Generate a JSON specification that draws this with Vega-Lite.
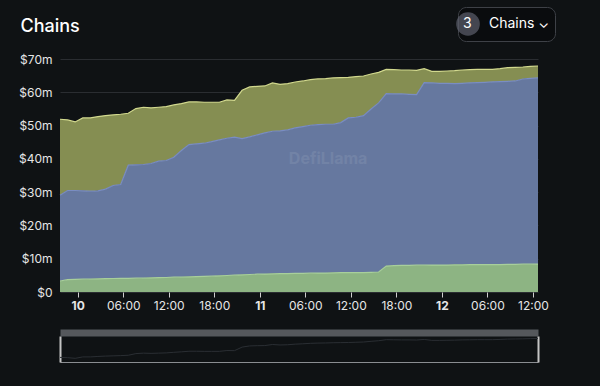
{
  "$schema": "https://vega.github.io/schema/vega-lite/v6.json",
  "background": "#0f1214",
  "autosize": "none",
  "padding": {"left": 60, "top": 59, "right": 62, "bottom": 94},
  "width": 478,
  "height": 233,
  "data": {"values": [
    {"t":1720561200000,"c":"Chain 1","v":22.8},{"t":1720561200000,"c":"Chain 2","v":25.8},{"t":1720561200000,"c":"Chain 3","v":3.3},
    {"t":1720564800000,"c":"Chain 1","v":21.2},{"t":1720564800000,"c":"Chain 2","v":26.8},{"t":1720564800000,"c":"Chain 3","v":3.7},
    {"t":1720568400000,"c":"Chain 1","v":20.6},{"t":1720568400000,"c":"Chain 2","v":26.7},{"t":1720568400000,"c":"Chain 3","v":3.8},
    {"t":1720572000000,"c":"Chain 1","v":21.9},{"t":1720572000000,"c":"Chain 2","v":26.55},{"t":1720572000000,"c":"Chain 3","v":3.85},
    {"t":1720575600000,"c":"Chain 1","v":22.0},{"t":1720575600000,"c":"Chain 2","v":26.4},{"t":1720575600000,"c":"Chain 3","v":3.9},
    {"t":1720579200000,"c":"Chain 1","v":22.3},{"t":1720579200000,"c":"Chain 2","v":26.45},{"t":1720579200000,"c":"Chain 3","v":3.95},
    {"t":1720582800000,"c":"Chain 1","v":22.1},{"t":1720582800000,"c":"Chain 2","v":26.9},{"t":1720582800000,"c":"Chain 3","v":4.0},
    {"t":1720586400000,"c":"Chain 1","v":21.2},{"t":1720586400000,"c":"Chain 2","v":27.95},{"t":1720586400000,"c":"Chain 3","v":4.05},
    {"t":1720590000000,"c":"Chain 1","v":21.1},{"t":1720590000000,"c":"Chain 2","v":28.2},{"t":1720590000000,"c":"Chain 3","v":4.1},
    {"t":1720593600000,"c":"Chain 1","v":15.6},{"t":1720593600000,"c":"Chain 2","v":34.0},{"t":1720593600000,"c":"Chain 3","v":4.1},
    {"t":1720597200000,"c":"Chain 1","v":16.9},{"t":1720597200000,"c":"Chain 2","v":34.05},{"t":1720597200000,"c":"Chain 3","v":4.15},
    {"t":1720600800000,"c":"Chain 1","v":17.2},{"t":1720600800000,"c":"Chain 2","v":34.1},{"t":1720600800000,"c":"Chain 3","v":4.2},
    {"t":1720604400000,"c":"Chain 1","v":16.7},{"t":1720604400000,"c":"Chain 2","v":34.35},{"t":1720604400000,"c":"Chain 3","v":4.25},
    {"t":1720608000000,"c":"Chain 1","v":16.2},{"t":1720608000000,"c":"Chain 2","v":35.0},{"t":1720608000000,"c":"Chain 3","v":4.3},
    {"t":1720611600000,"c":"Chain 1","v":16.2},{"t":1720611600000,"c":"Chain 2","v":35.15},{"t":1720611600000,"c":"Chain 3","v":4.35},
    {"t":1720615200000,"c":"Chain 1","v":15.7},{"t":1720615200000,"c":"Chain 2","v":36.05},{"t":1720615200000,"c":"Chain 3","v":4.45},
    {"t":1720618800000,"c":"Chain 1","v":14.1},{"t":1720618800000,"c":"Chain 2","v":38.0},{"t":1720618800000,"c":"Chain 3","v":4.5},
    {"t":1720622400000,"c":"Chain 1","v":12.8},{"t":1720622400000,"c":"Chain 2","v":39.75},{"t":1720622400000,"c":"Chain 3","v":4.55},
    {"t":1720626000000,"c":"Chain 1","v":12.6},{"t":1720626000000,"c":"Chain 2","v":39.9},{"t":1720626000000,"c":"Chain 3","v":4.6},
    {"t":1720629600000,"c":"Chain 1","v":12.3},{"t":1720629600000,"c":"Chain 2","v":40.0},{"t":1720629600000,"c":"Chain 3","v":4.7},
    {"t":1720633200000,"c":"Chain 1","v":11.8},{"t":1720633200000,"c":"Chain 2","v":40.45},{"t":1720633200000,"c":"Chain 3","v":4.75},
    {"t":1720636800000,"c":"Chain 1","v":11.3},{"t":1720636800000,"c":"Chain 2","v":40.85},{"t":1720636800000,"c":"Chain 3","v":4.85},
    {"t":1720640400000,"c":"Chain 1","v":11.5},{"t":1720640400000,"c":"Chain 2","v":41.25},{"t":1720640400000,"c":"Chain 3","v":4.95},
    {"t":1720644000000,"c":"Chain 1","v":11.1},{"t":1720644000000,"c":"Chain 2","v":41.45},{"t":1720644000000,"c":"Chain 3","v":5.05},
    {"t":1720647600000,"c":"Chain 1","v":14.5},{"t":1720647600000,"c":"Chain 2","v":40.95},{"t":1720647600000,"c":"Chain 3","v":5.15},
    {"t":1720651200000,"c":"Chain 1","v":15.0},{"t":1720651200000,"c":"Chain 2","v":41.35},{"t":1720651200000,"c":"Chain 3","v":5.25},
    {"t":1720654800000,"c":"Chain 1","v":14.6},{"t":1720654800000,"c":"Chain 2","v":41.85},{"t":1720654800000,"c":"Chain 3","v":5.35},
    {"t":1720658400000,"c":"Chain 1","v":14.1},{"t":1720658400000,"c":"Chain 2","v":42.4},{"t":1720658400000,"c":"Chain 3","v":5.4},
    {"t":1720662000000,"c":"Chain 1","v":14.5},{"t":1720662000000,"c":"Chain 2","v":42.85},{"t":1720662000000,"c":"Chain 3","v":5.45},
    {"t":1720665600000,"c":"Chain 1","v":14.0},{"t":1720665600000,"c":"Chain 2","v":42.9},{"t":1720665600000,"c":"Chain 3","v":5.5},
    {"t":1720669200000,"c":"Chain 1","v":13.9},{"t":1720669200000,"c":"Chain 2","v":43.15},{"t":1720669200000,"c":"Chain 3","v":5.55},
    {"t":1720672800000,"c":"Chain 1","v":13.8},{"t":1720672800000,"c":"Chain 2","v":43.7},{"t":1720672800000,"c":"Chain 3","v":5.6},
    {"t":1720676400000,"c":"Chain 1","v":13.7},{"t":1720676400000,"c":"Chain 2","v":44.1},{"t":1720676400000,"c":"Chain 3","v":5.6},
    {"t":1720680000000,"c":"Chain 1","v":13.7},{"t":1720680000000,"c":"Chain 2","v":44.45},{"t":1720680000000,"c":"Chain 3","v":5.65},
    {"t":1720683600000,"c":"Chain 1","v":13.7},{"t":1720683600000,"c":"Chain 2","v":44.6},{"t":1720683600000,"c":"Chain 3","v":5.7},
    {"t":1720687200000,"c":"Chain 1","v":13.7},{"t":1720687200000,"c":"Chain 2","v":44.7},{"t":1720687200000,"c":"Chain 3","v":5.7},
    {"t":1720690800000,"c":"Chain 1","v":13.9},{"t":1720690800000,"c":"Chain 2","v":44.65},{"t":1720690800000,"c":"Chain 3","v":5.75},
    {"t":1720694400000,"c":"Chain 1","v":13.5},{"t":1720694400000,"c":"Chain 2","v":45.1},{"t":1720694400000,"c":"Chain 3","v":5.8},
    {"t":1720698000000,"c":"Chain 1","v":12.2},{"t":1720698000000,"c":"Chain 2","v":46.5},{"t":1720698000000,"c":"Chain 3","v":5.8},
    {"t":1720701600000,"c":"Chain 1","v":12.2},{"t":1720701600000,"c":"Chain 2","v":46.65},{"t":1720701600000,"c":"Chain 3","v":5.85},
    {"t":1720705200000,"c":"Chain 1","v":11.9},{"t":1720705200000,"c":"Chain 2","v":47.15},{"t":1720705200000,"c":"Chain 3","v":5.85},
    {"t":1720708800000,"c":"Chain 1","v":10.5},{"t":1720708800000,"c":"Chain 2","v":49.1},{"t":1720708800000,"c":"Chain 3","v":5.9},
    {"t":1720712400000,"c":"Chain 1","v":9.2},{"t":1720712400000,"c":"Chain 2","v":50.8},{"t":1720712400000,"c":"Chain 3","v":6.0},
    {"t":1720716000000,"c":"Chain 1","v":7.3},{"t":1720716000000,"c":"Chain 2","v":51.8},{"t":1720716000000,"c":"Chain 3","v":7.8},
    {"t":1720719600000,"c":"Chain 1","v":7.3},{"t":1720719600000,"c":"Chain 2","v":51.6},{"t":1720719600000,"c":"Chain 3","v":7.9},
    {"t":1720723200000,"c":"Chain 1","v":7.2},{"t":1720723200000,"c":"Chain 2","v":51.5},{"t":1720723200000,"c":"Chain 3","v":8.0},
    {"t":1720726800000,"c":"Chain 1","v":7.3},{"t":1720726800000,"c":"Chain 2","v":51.4},{"t":1720726800000,"c":"Chain 3","v":8.0},
    {"t":1720730400000,"c":"Chain 1","v":7.3},{"t":1720730400000,"c":"Chain 2","v":51.25},{"t":1720730400000,"c":"Chain 3","v":8.05},
    {"t":1720734000000,"c":"Chain 1","v":4.2},{"t":1720734000000,"c":"Chain 2","v":54.85},{"t":1720734000000,"c":"Chain 3","v":8.05},
    {"t":1720737600000,"c":"Chain 1","v":3.5},{"t":1720737600000,"c":"Chain 2","v":54.7},{"t":1720737600000,"c":"Chain 3","v":8.1},
    {"t":1720741200000,"c":"Chain 1","v":3.6},{"t":1720741200000,"c":"Chain 2","v":54.6},{"t":1720741200000,"c":"Chain 3","v":8.1},
    {"t":1720744800000,"c":"Chain 1","v":3.7},{"t":1720744800000,"c":"Chain 2","v":54.6},{"t":1720744800000,"c":"Chain 3","v":8.1},
    {"t":1720748400000,"c":"Chain 1","v":3.9},{"t":1720748400000,"c":"Chain 2","v":54.45},{"t":1720748400000,"c":"Chain 3","v":8.15},
    {"t":1720752000000,"c":"Chain 1","v":4.0},{"t":1720752000000,"c":"Chain 2","v":54.55},{"t":1720752000000,"c":"Chain 3","v":8.15},
    {"t":1720755600000,"c":"Chain 1","v":4.0},{"t":1720755600000,"c":"Chain 2","v":54.6},{"t":1720755600000,"c":"Chain 3","v":8.2},
    {"t":1720759200000,"c":"Chain 1","v":4.0},{"t":1720759200000,"c":"Chain 2","v":54.7},{"t":1720759200000,"c":"Chain 3","v":8.2},
    {"t":1720762800000,"c":"Chain 1","v":3.9},{"t":1720762800000,"c":"Chain 2","v":54.8},{"t":1720762800000,"c":"Chain 3","v":8.2},
    {"t":1720766400000,"c":"Chain 1","v":3.8},{"t":1720766400000,"c":"Chain 2","v":54.85},{"t":1720766400000,"c":"Chain 3","v":8.25},
    {"t":1720770000000,"c":"Chain 1","v":3.9},{"t":1720770000000,"c":"Chain 2","v":54.95},{"t":1720770000000,"c":"Chain 3","v":8.25},
    {"t":1720773600000,"c":"Chain 1","v":4.1},{"t":1720773600000,"c":"Chain 2","v":55.0},{"t":1720773600000,"c":"Chain 3","v":8.3},
    {"t":1720777200000,"c":"Chain 1","v":4.1},{"t":1720777200000,"c":"Chain 2","v":55.1},{"t":1720777200000,"c":"Chain 3","v":8.3},
    {"t":1720780800000,"c":"Chain 1","v":3.6},{"t":1720780800000,"c":"Chain 2","v":55.65},{"t":1720780800000,"c":"Chain 3","v":8.35},
    {"t":1720784400000,"c":"Chain 1","v":3.6},{"t":1720784400000,"c":"Chain 2","v":55.85},{"t":1720784400000,"c":"Chain 3","v":8.35},
    {"t":1720788000000,"c":"Chain 1","v":3.6},{"t":1720788000000,"c":"Chain 2","v":55.9},{"t":1720788000000,"c":"Chain 3","v":8.4}
  ]},
  "resolve": {"scale": {"y": "independent"}, "axis": {"x": "independent", "y": "independent"}},
  "layer": [
    {
      "mark": {"type": "area", "interpolate": "linear"},
      "encoding": {
        "x": {
          "field": "t", "type": "temporal",
          "scale": {"type": "utc", "nice": false},
          "axis": {
            "title": null,
            "labelExpr": "utchours(datum.value) == 0 ? utcdate(datum.value) : utcFormat(datum.value, '%H:%M')",
            "labelFontWeight": {"condition": {"test": "utchours(datum.value) == 0", "value": "bold"}, "value": "normal"},
            "grid": false, "domain": false,
            "ticks": true, "tickColor": "#cfcfcf", "tickSize": 5,
            "labelPadding": 3, "labelFlush": false, "labelOverlap": false
          }
        },
        "y": {
          "field": "v", "type": "quantitative", "stack": "zero",
          "scale": {"domain": [0, 70], "nice": false},
          "axis": {
            "values": [0, 10, 20, 30, 40, 50, 60, 70],
            "labelExpr": "datum.value == 0 ? '$0' : '$' + datum.value + 'm'",
            "grid": true, "gridColor": "#2a2d31", "domain": false, "ticks": false,
            "labelPadding": 8,
            "title": "Chains", "titleAngle": 0, "titleAlign": "left", "titleBaseline": "alphabetic",
            "titleX": -40, "titleY": -28, "titleColor": "#ffffff", "titleFontSize": 18,
            "titleFontWeight": 500, "titleFont": "Inter"
          }
        },
        "color": {
          "field": "c", "type": "nominal",
          "scale": {"domain": ["Chain 1", "Chain 2", "Chain 3"], "range": ["#858e52", "#66789f", "#8db483"]},
          "legend": null
        }
      }
    },
    {
      "mark": {"type": "line", "strokeWidth": 1.2},
      "encoding": {
        "x": {"field": "t", "type": "temporal", "axis": null},
        "y": {"field": "v", "type": "quantitative", "stack": "zero", "scale": {"domain": [0, 70], "nice": false}, "axis": null},
        "stroke": {
          "field": "c", "type": "nominal",
          "scale": {"domain": ["Chain 1", "Chain 2", "Chain 3"], "range": ["#d2d98e", "#7a8dc2", "#a8cf9b"]},
          "legend": null
        }
      }
    },
    {
      "data": {"values": [{"label": "DefiLlama"}]},
      "mark": {"type": "text", "fontSize": 16, "fontWeight": "bold", "color": "#ffffff", "opacity": 0.08, "font": "Inter"},
      "encoding": {
        "x": {"datum": 1720688400000, "type": "temporal", "axis": null},
        "y": {"datum": 40, "type": "quantitative", "scale": {"domain": [0, 70], "nice": false}, "axis": null},
        "text": {"field": "label"}
      }
    },
    {
      "mark": {"type": "line", "color": "#2a2e33", "strokeWidth": 1},
      "encoding": {
        "x": {
          "field": "t", "type": "temporal",
          "axis": {"orient": "top", "offset": -273.5, "domainColor": "#55585c", "domainWidth": 7, "labels": false, "ticks": false, "grid": false, "title": null}
        },
        "y": {
          "aggregate": "sum", "field": "v", "type": "quantitative",
          "scale": {"domain": [48, 70], "range": [303, 277], "nice": false, "zero": false},
          "axis": {"orient": "left", "labels": false, "ticks": false, "grid": false, "domainColor": "#c4c4c4", "domainWidth": 2, "title": null}
        }
      }
    },
    {
      "mark": {"type": "line", "opacity": 0},
      "encoding": {
        "x": {
          "field": "t", "type": "temporal",
          "axis": {"orient": "bottom", "offset": 70, "domainColor": "#8a8d91", "domainWidth": 1, "labels": false, "ticks": false, "grid": false, "title": null}
        },
        "y": {
          "aggregate": "sum", "field": "v", "type": "quantitative",
          "scale": {"domain": [48, 70], "range": [303, 277], "nice": false, "zero": false},
          "axis": {"orient": "right", "labels": false, "ticks": false, "grid": false, "domainColor": "#c4c4c4", "domainWidth": 2, "title": null}
        }
      }
    },
    {
      "data": {"values": [{"k": "Chains"}]},
      "mark": {"type": "point", "size": 0, "strokeWidth": 0, "filled": true},
      "encoding": {
        "fill": {
          "field": "k", "type": "nominal",
          "scale": {"domain": ["Chains"], "range": ["#5c5f6c"]},
          "legend": {
            "orient": "none", "legendX": 398, "legendY": -52,
            "title": "\u00a0\u00a03", "titleOrient": "left", "titleColor": "#ffffff",
            "titleFontSize": 14, "titleFontWeight": "normal", "titleFont": "Inter",
            "titlePadding": -16, "titleBaseline": "middle", "titleAnchor": "middle",
            "symbolType": "circle", "symbolSize": 560, "symbolStrokeWidth": 0,
            "labelColor": "#ffffff", "labelFontSize": 14, "labelFont": "Inter", "labelOffset": 9,
            "labelExpr": "'Chains ⌄'",
            "fillColor": "#0a0c0e", "strokeColor": "#3e4147", "cornerRadius": 8, "padding": 5
          }
        }
      }
    }
  ],
  "config": {
    "font": "Inter",
    "axis": {"labelColor": "#e6e6e6", "labelFont": "Inter", "labelFontSize": 12},
    "view": {"stroke": null}
  }
}
